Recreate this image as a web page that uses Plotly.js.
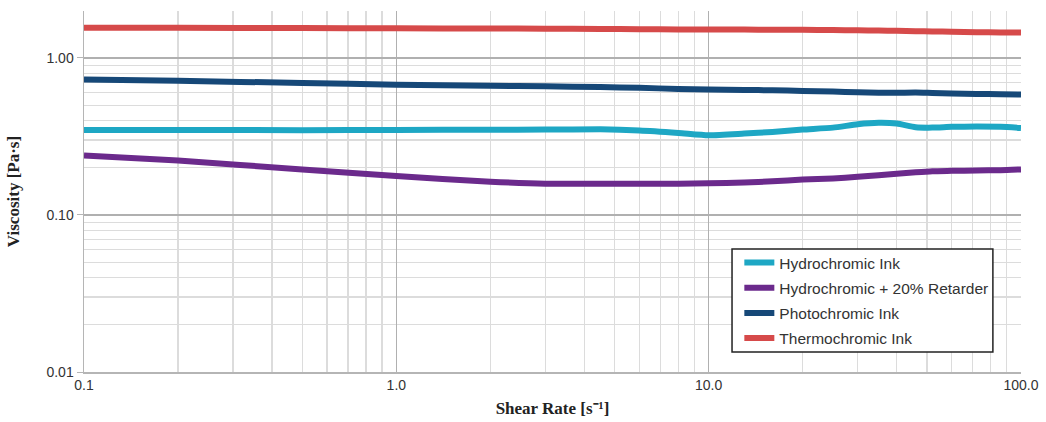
<!DOCTYPE html>
<html>
<head>
<meta charset="utf-8">
<script src="https://cdn.plot.ly/plotly-3.0.1.min.js"></script>
<style>html,body{margin:0;padding:0;background:#fff;}#chart{width:1046px;height:422px;}</style>
</head>
<body>
<div id="chart"></div>
<script>
// Shear rate [1/s]
const shearRate = [0.1, 0.2, 0.5, 1.0, 2.0, 3.0, 4.5, 6.0, 8.0, 10.0, 13.0, 16.0, 20.0, 25.0, 30.0, 35.0, 40.0, 46.0, 52.0, 60.0, 72.0, 86.0, 100.0];

const seriesNames = ["Hydrochromic Ink", "Hydrochromic + 20% Retarder", "Photochromic Ink", "Thermochromic Ink"];

const hydrochromic = [0.348, 0.348, 0.347, 0.348, 0.349, 0.350, 0.351, 0.345, 0.333, 0.322, 0.330, 0.338, 0.350, 0.360, 0.378, 0.386, 0.382, 0.362, 0.360, 0.364, 0.366, 0.364, 0.358];
const hydroRetarder = [0.239, 0.222, 0.195, 0.177, 0.163, 0.158, 0.158, 0.158, 0.158, 0.159, 0.161, 0.164, 0.168, 0.171, 0.175, 0.179, 0.183, 0.187, 0.190, 0.191, 0.192, 0.193, 0.195];
const photochromic = [0.730, 0.715, 0.693, 0.675, 0.665, 0.660, 0.652, 0.645, 0.635, 0.629, 0.626, 0.622, 0.617, 0.612, 0.604, 0.601, 0.600, 0.602, 0.598, 0.594, 0.590, 0.587, 0.585];
const thermochromic = [1.56, 1.555, 1.55, 1.545, 1.54, 1.535, 1.53, 1.525, 1.52, 1.52, 1.515, 1.51, 1.51, 1.505, 1.50, 1.495, 1.49, 1.48, 1.475, 1.47, 1.46, 1.455, 1.45];

const colors = ["#1ea7c4", "#6b2a8c", "#164878", "#d64a4a"];
const values = [hydrochromic, hydroRetarder, photochromic, thermochromic];

const traces = values.map((v, i) => ({
  x: shearRate,
  y: v,
  name: seriesNames[i],
  legendgroup: "g" + i,
  type: "scatter",
  mode: "lines",
  line: {color: colors[i], width: 6, shape: "spline", smoothing: 0.6}
}));

const layout = {
  width: 1046,
  height: 422,
  margin: {l: 84, r: 25, t: 11, b: 50},
  paper_bgcolor: "#ffffff",
  plot_bgcolor: "#ffffff",
  showlegend: true,
  font: {family: "Liberation Sans, Arial, sans-serif", size: 14, color: "#333"},
  legend: {
    x: 0.6994, y: 0.047, xanchor: "left", yanchor: "bottom",
    bgcolor: "rgba(0,0,0,0)", borderwidth: 0,
    font: {family: "Liberation Sans, Arial, sans-serif", size: 15.5, color: "#333"},
    tracegroupgap: 2, itemwidth: 30
  },
  shapes: [{
    type: "rect", xref: "paper", yref: "paper",
    x0: 0.6916, x1: 0.970, y0: 0.0554, y1: 0.3407,
    fillcolor: "#ffffff", line: {color: "#222", width: 1.5}, layer: "above"
  }],
  xaxis: {
    type: "log",
    range: [-1, 2],
    dtick: 1,
    tick0: 0,
    tickformat: ".1f",
    showgrid: true,
    gridcolor: "#b0b0b0",
    gridwidth: 1.2,
    minor: {dtick: "D1", showgrid: true, gridcolor: "#dcdcdc", gridwidth: 1.2},
    showline: true, linecolor: "#b5b5b5", linewidth: 1.5,
    ticks: "", zeroline: false,
    tickfont: {size: 14, color: "#333"},
    title: {text: "Shear Rate [s⁻¹]", font: {family: "Liberation Serif, serif", size: 17, color: "#222", weight: "bold"}, standoff: 10}
  },
  yaxis: {
    type: "log",
    range: [-2, 0.299],
    dtick: 1,
    tick0: 0,
    tickformat: ".2f",
    showgrid: true,
    gridcolor: "#b0b0b0",
    gridwidth: 1.2,
    minor: {dtick: "D1", showgrid: true, gridcolor: "#dcdcdc", gridwidth: 1.2},
    showline: true, linecolor: "#b5b5b5", linewidth: 1.5,
    ticks: "outside", ticklen: 6, tickcolor: "#b5b5b5",
    zeroline: false,
    tickfont: {size: 14, color: "#333"},
    title: {text: "Viscosity [Pa·s]", font: {family: "Liberation Serif, serif", size: 17, color: "#222", weight: "bold"}, standoff: 22}
  }
};

Plotly.newPlot("chart", traces, layout, {displayModeBar: false, staticPlot: true});
</script>
</body>
</html>
